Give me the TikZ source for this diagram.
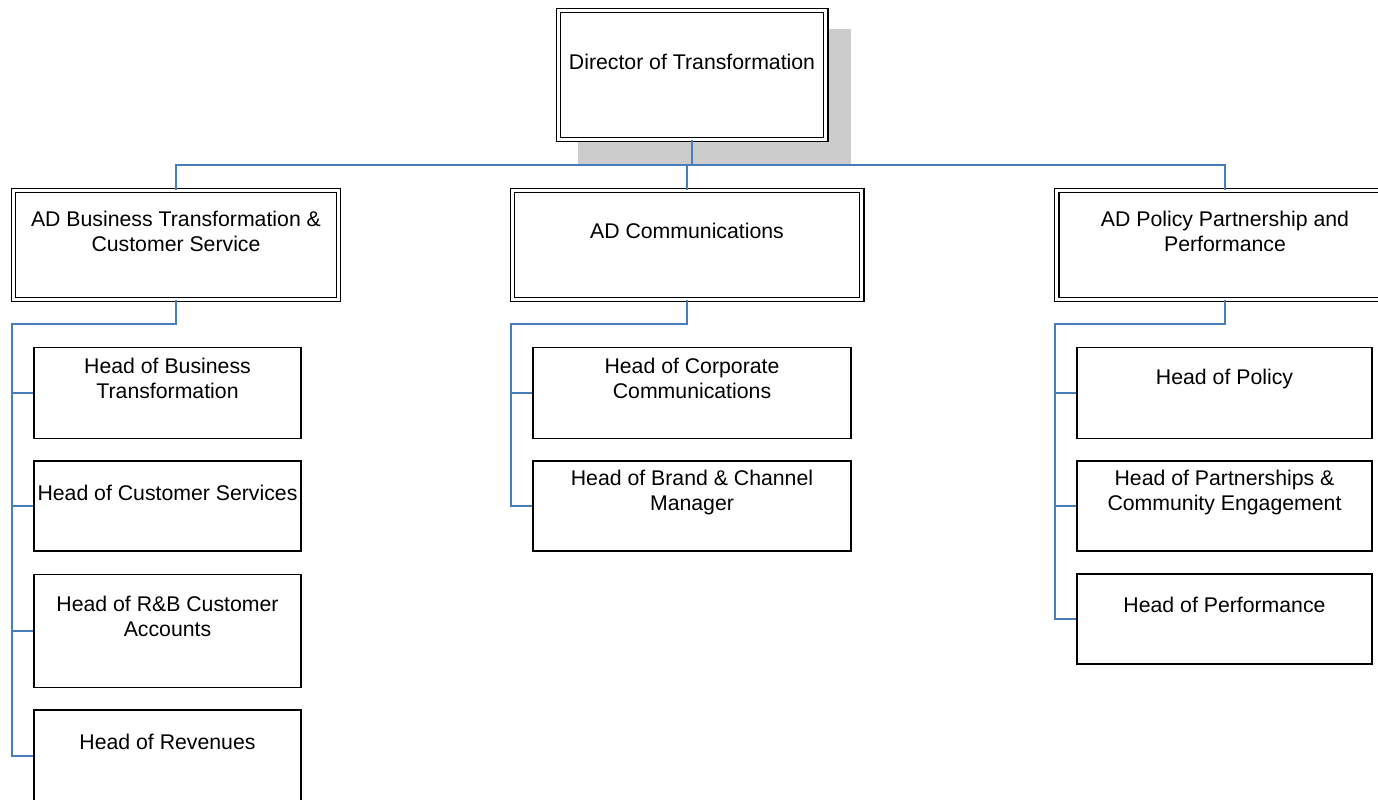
\documentclass[tikz,border=0pt]{standalone}
\usepackage{fontspec}
\setmainfont{Liberation Sans}
\usepackage{tikz}
\usetikzlibrary{positioning,calc}
\definecolor{lienbleu}{RGB}{74,126,187}
\tikzset{
	boite/.style={draw=black,line width=1pt,fill=white,rectangle,inner sep=0pt},
	boitedouble/.style={draw=black,line width=0.85pt,double=white,double distance=1.7pt,fill=white,rectangle,inner sep=0pt},
	texte/.style={align=center,inner sep=0pt,font=\fontsize{12.1}{14.5}\selectfont},
	lien/.style={draw=lienbleu,line width=1.1pt}
}
\newcommand{\px}{0.02cm}

\begin{document}
\begin{tikzpicture}[x=0.02cm,y=-0.02cm]
	\useasboundingbox (0,0) rectangle (1378,800);
	\clip (0,0) rectangle (1378,800); % le cadre coupe les boites du bord

	%Ombre du directeur
	\fill[black!20] (578,29) rectangle (851,165);

	%Points de jonction
	\coordinate (bus) at (0,165);
	\coordinate (peigneB) at (12,324);
	\coordinate (peigneC) at (511,324);
	\coordinate (peigneP) at (1055,324);

	%Niveau 1
	\node[boitedouble,minimum width=267*\px,minimum height=129*\px] (dir) at (692,75) {};
	\node[texte] (dir-t) at ($(dir.north)+(0,52.5)$) {Director of Transformation};

	%Niveau 2
	\node[boitedouble,minimum width=325*\px,minimum height=109*\px] (adb) at (176,245) {};
	\node[boitedouble,minimum width=349*\px,minimum height=109*\px] (adc) at (687,245) {};
	\node[boitedouble,minimum width=337*\px,minimum height=109*\px] (adp) at (1225,245) {};
	\node[texte] (adb-t) at ($(adb.north)+(0,41.5)$) {AD Business Transformation \&\\Customer Service};
	\node[texte] (adc-t) at ($(adc.north)+(0,41.5)$) {AD Communications};
	\node[texte] (adp-t) at ($(adp.north)+(0,41.5)$) {AD Policy Partnership and\\Performance};

	%Niveau 3, colonne gauche
	\node[boite,minimum width=267*\px,minimum height=91*\px] (hbt) at (167.5,393) {};
	\node[boite,minimum width=267*\px,minimum height=90*\px] (hcs) at (167.5,506) {};
	\node[boite,minimum width=267*\px,minimum height=113*\px] (hrb) at (167.5,631) {};
	\node[boite,minimum width=267*\px,minimum height=92*\px] (hrv) at (167.5,756) {};
	\node[texte] (hbt-t) at ($(hbt.north)+(0,32)$) {Head of Business\\Transformation};
	\node[texte] (hcs-t) at ($(hcs.north)+(0,33)$) {Head of Customer Services};
	\node[texte] (hrb-t) at ($(hrb.north)+(0,43)$) {Head of R\&B Customer\\Accounts};
	\node[texte] (hrv-t) at ($(hrv.north)+(0,33)$) {Head of Revenues};

	%Niveau 3, colonne du milieu
	\node[boite,minimum width=318*\px,minimum height=91*\px] (hcc) at (692,393) {};
	\node[boite,minimum width=318*\px,minimum height=90*\px] (hbc) at (692,506) {};
	\node[texte] (hcc-t) at ($(hcc.north)+(0,32)$) {Head of Corporate\\Communications};
	\node[texte] (hbc-t) at ($(hbc.north)+(0,32.5)$) {Head of Brand \& Channel\\Manager};

	%Niveau 3, colonne droite
	\node[boite,minimum width=295*\px,minimum height=91*\px] (hpo) at (1224.5,393) {};
	\node[boite,minimum width=295*\px,minimum height=90*\px] (hpc) at (1224.5,506) {};
	\node[boite,minimum width=295*\px,minimum height=90*\px] (hpf) at (1224.5,619) {};
	\node[texte] (hpo-t) at ($(hpo.north)+(0,32.5)$) {Head of Policy};
	\node[texte] (hpc-t) at ($(hpc.north)+(0,32.5)$) {Head of Partnerships \&\\Community Engagement};
	\node[texte] (hpf-t) at ($(hpf.north)+(0,32)$) {Head of Performance};

	%Liens
	\draw[lien] (dir.south) -- (dir.south |- bus);
	\draw[lien] (adb.north) |- (adp.north |- bus) -- (adp.north);
	\draw[lien] (adc.north |- bus) -- (adc.north);

	\draw[lien] (adb.south) |- (peigneB) -- (peigneB |- hrv.west) -- (hrv.west);
	\draw[lien] (peigneB |- hbt.west) -- (hbt.west);
	\draw[lien] (peigneB |- hcs.west) -- (hcs.west);
	\draw[lien] (peigneB |- hrb.west) -- (hrb.west);

	\draw[lien] (adc.south) |- (peigneC) -- (peigneC |- hbc.west) -- (hbc.west);
	\draw[lien] (peigneC |- hcc.west) -- (hcc.west);

	\draw[lien] (adp.south) |- (peigneP) -- (peigneP |- hpf.west) -- (hpf.west);
	\draw[lien] (peigneP |- hpo.west) -- (hpo.west);
	\draw[lien] (peigneP |- hpc.west) -- (hpc.west);
\end{tikzpicture}
\end{document}
